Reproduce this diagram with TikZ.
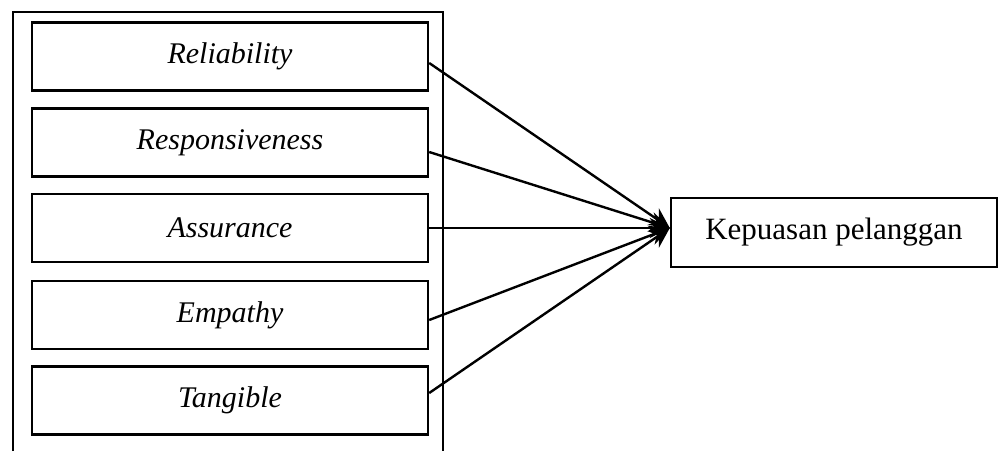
\documentclass[tikz,border=0pt]{standalone}
\usepackage{fontspec}
\setmainfont{Liberation Serif}
\usetikzlibrary{arrows.meta}
\begin{document}
\begin{tikzpicture}[x=1pt,y=-1pt,
  dimbox/.style={draw, line width=2.4pt, minimum width=396pt, minimum height=68pt,
    inner sep=0pt, font=\fontsize{30}{36}\selectfont\itshape},
  outbox/.style={draw, line width=2.4pt, minimum width=326pt, minimum height=69pt,
    inner sep=0pt, font=\fontsize{31}{37}\selectfont},
  link/.style={line width=2.4pt, -{Stealth[length=20pt,width=20pt]}},
  frame/.style={line width=2.4pt}]
\useasboundingbox (0,0) rectangle (1000,451);

% enclosing frame, open at the bottom
\coordinate (fbl) at (13,451);
\coordinate (ftl) at (13,12);
\coordinate (ftr) at (443,12);
\coordinate (fbr) at (443,451);
\draw[frame] (fbl) -- (ftl) -- (ftr) -- (fbr);

% service quality dimensions
\node[dimbox] (rel) at (230,56.5) {Reliability};
\node[dimbox] (res) at (230,142.5) {Responsiveness};
\node[dimbox] (ass) at (230,228) {Assurance};
\node[dimbox] (emp) at (230,315) {Empathy};
\node[dimbox] (tan) at (230,400.5) {Tangible};

% outcome
\node[outbox] (kep) at (834,232.5) {Kepuasan pelanggan};
\coordinate (hub) at ([yshift=4.5pt]kep.west);

% links
\draw[link] ([yshift=-6.5pt]rel.east) -- (hub);
\draw[link] ([yshift=-9.5pt]res.east) -- (hub);
\draw[link] (ass.east) -- (hub);
\draw[link] ([yshift=-5pt]emp.east) -- (hub);
\draw[link] ([yshift=7.5pt]tan.east) -- (hub);
\end{tikzpicture}
\end{document}
